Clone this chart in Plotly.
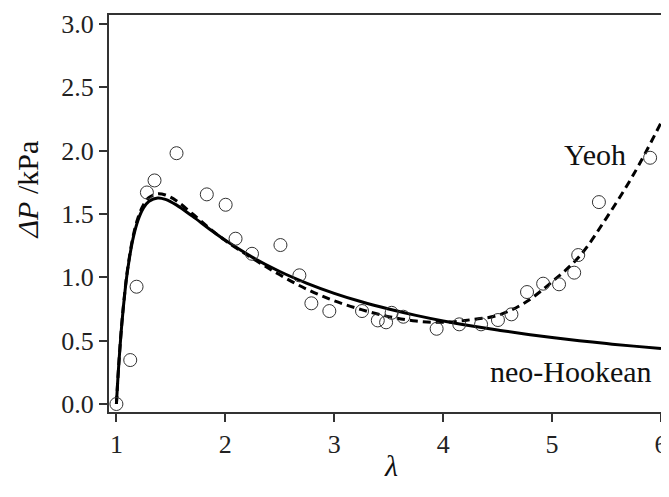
import plotly.graph_objects as go

# measured inflation data (stretch ratio vs pressure difference)
lam_data = [1.0, 1.127, 1.185, 1.28, 1.35, 1.552, 1.83, 2.003, 2.094, 2.245, 2.506,
            2.68, 2.79, 2.955, 3.255, 3.40, 3.476, 3.527, 3.634, 3.94, 4.148, 4.348,
            4.503, 4.627, 4.77, 4.918, 5.064, 5.203, 5.24, 5.43, 5.90]
dp_data = [0.0, 0.347, 0.926, 1.67, 1.765, 1.98, 1.655, 1.573, 1.305, 1.186, 1.255,
           1.016, 0.795, 0.734, 0.734, 0.66, 0.645, 0.72, 0.689, 0.594, 0.629, 0.629,
           0.663, 0.708, 0.884, 0.95, 0.945, 1.037, 1.176, 1.594, 1.944]

# model curves
lam_fit = [1.0, 1.02, 1.05, 1.08, 1.1, 1.15, 1.2, 1.25, 1.3, 1.38, 1.45, 1.55, 1.7,
           1.85, 2.0, 2.25, 2.5, 2.75, 3.0, 3.25, 3.5, 3.75, 4.0, 4.25, 4.5, 4.75,
           5.0, 5.25, 5.5, 5.75, 6.0]
dp_neo = [0.0, 0.288, 0.635, 0.899, 1.04, 1.296, 1.455, 1.55, 1.601, 1.627, 1.616,
          1.572, 1.481, 1.384, 1.292, 1.158, 1.046, 0.953, 0.874, 0.807, 0.75, 0.70,
          0.656, 0.618, 0.584, 0.553, 0.525, 0.50, 0.477, 0.457, 0.438]
dp_yeoh = [0.0, 0.29, 0.64, 0.905, 1.05, 1.31, 1.475, 1.575, 1.63, 1.66, 1.65,
           1.605, 1.50, 1.39, 1.29, 1.15, 1.02, 0.905, 0.815, 0.745, 0.69, 0.655,
           0.645, 0.665, 0.70, 0.80, 0.965, 1.165, 1.47, 1.815, 2.22]

FONT = "Liberation Serif"
AX = "#333333"

fig = go.Figure()

fig.add_trace(go.Scatter(
    x=lam_fit, y=dp_neo, mode="lines", line_shape="spline",
    line=dict(color="black", width=3), showlegend=False
))
fig.add_trace(go.Scatter(
    x=lam_fit, y=dp_yeoh, mode="lines", line_shape="spline",
    line=dict(color="black", width=3, dash="8px,5px"), showlegend=False
))
fig.add_trace(go.Scatter(
    x=lam_data, y=dp_data, mode="markers",
    marker=dict(symbol="circle-open", size=13, color="#333333", line=dict(width=1)),
    showlegend=False, cliponaxis=False
))

# curve labels
fig.add_annotation(x=5.39, y=1.973, text="Yeoh", showarrow=False,
                   font=dict(family=FONT, size=30, color="#111111"))
fig.add_annotation(x=5.17, y=0.26, text="neo-Hookean", showarrow=False,
                   font=dict(family=FONT, size=30, color="#111111"))

# axis titles placed by hand (the y title sits above the centre in the original)
fig.add_annotation(xref="paper", yref="paper", x=-0.147, y=0.56,
                   text="<i>ΔP</i> /kPa", textangle=-90, showarrow=False,
                   xanchor="center", yanchor="middle",
                   font=dict(family=FONT, size=30, color="#111111"))
fig.add_annotation(xref="paper", yref="paper", x=0.51, y=-0.134,
                   text="<i>λ</i>", showarrow=False,
                   xanchor="center", yanchor="middle",
                   font=dict(family=FONT, size=30, color="#111111"))

# the page body adds an 8px offset, so keep the figure inside the window
fig.update_layout(
    width=653, height=481,
    margin=dict(l=101, r=0, t=7, b=77),
    plot_bgcolor="white", paper_bgcolor="white",
    font=dict(family=FONT, color="#222222"),
)
fig.update_xaxes(
    range=[0.932, 6.0], tickvals=[1, 2, 3, 4, 5, 6],
    showgrid=False, zeroline=False, automargin=False,
    showline=True, linecolor=AX, linewidth=2, mirror=True,
    ticks="outside", ticklen=8, tickwidth=1.5, tickcolor=AX,
    tickfont=dict(family=FONT, size=26), ticklabeloverflow="allow",
)
fig.update_yaxes(
    range=[-0.063, 3.071], tickvals=[0, 0.5, 1, 1.5, 2, 2.5, 3],
    tickformat=".1f",
    showgrid=False, zeroline=False, automargin=False,
    showline=True, linecolor=AX, linewidth=2,
    ticks="outside", ticklen=8, tickwidth=1.5, tickcolor=AX,
    tickfont=dict(family=FONT, size=26),
)

fig.write_html("out.html")
